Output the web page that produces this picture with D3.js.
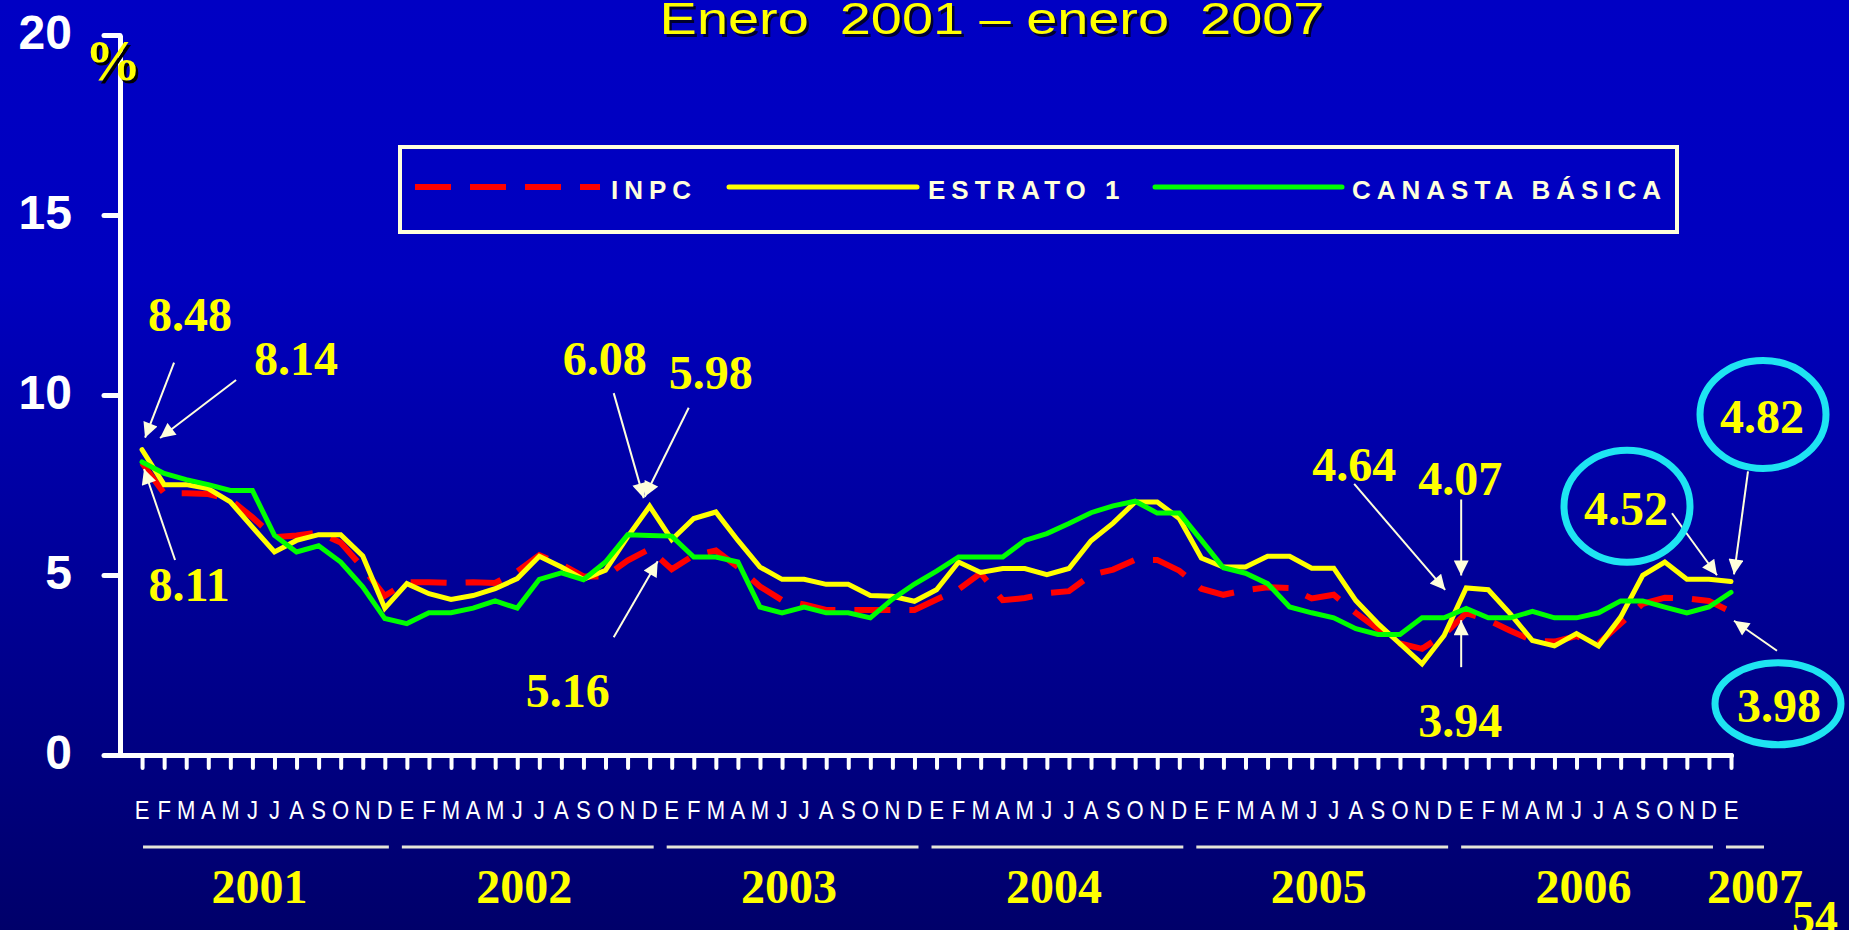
<!DOCTYPE html>
<html>
<head>
<meta charset="utf-8">
<script src="https://cdn.jsdelivr.net/npm/d3@7"></script>
<style>
  html, body { margin: 0; padding: 0; overflow: hidden; background: #0000a0; }
  svg { display: block; }
</style>
</head>
<body>
<svg id="chart" width="1849" height="930"></svg>
<script>
// ---- Data: annual inflation (%) January 2001 - January 2007 ----
const monthInitials = ["E", "F", "M", "A", "M", "J", "J", "A", "S", "O", "N", "D"];
const years = ["2001", "2002", "2003", "2004", "2005", "2006", "2007"];
const yTicks = [0, 5, 10, 15, 20];

const inpc = [
  8.11, 7.27, 7.27, 7.25, 7.10, 6.60, 6.05, 6.10, 6.18, 5.90, 5.20, 4.42,
  4.80, 4.80, 4.78, 4.80, 4.78, 5.10, 5.55, 5.30, 4.96, 4.96, 5.40, 5.72,
  5.16, 5.55, 5.68, 5.22, 4.68, 4.30, 4.18, 4.03, 4.03, 4.03, 4.03, 4.03,
  4.32, 4.60, 5.05, 4.30, 4.36, 4.50, 4.55, 5.00, 5.15, 5.42, 5.42, 5.12,
  4.62, 4.45, 4.58, 4.66, 4.64, 4.35, 4.45, 3.95, 3.50, 3.10, 2.95, 3.35,
  3.94, 3.75, 3.45, 3.18, 3.15, 3.30, 3.10, 3.65, 4.20, 4.37, 4.35, 4.28,
  3.98
];
const estrato1 = [
  8.48, 7.51, 7.51, 7.40, 7.03, 6.33, 5.64, 5.96, 6.12, 6.12, 5.53, 4.08,
  4.76, 4.48, 4.32, 4.43, 4.62, 4.90, 5.52, 5.22, 4.88, 5.13, 6.06, 6.91,
  5.98, 6.57, 6.75, 5.96, 5.22, 4.88, 4.88, 4.74, 4.74, 4.43, 4.41, 4.27,
  4.59, 5.36, 5.07, 5.18, 5.18, 5.01, 5.18, 5.95, 6.44, 7.03, 7.03, 6.57,
  5.47, 5.22, 5.22, 5.52, 5.52, 5.19, 5.19, 4.29, 3.65, 3.09, 2.53, 3.32,
  4.64, 4.59, 3.92, 3.18, 3.03, 3.37, 3.03, 3.83, 4.99, 5.36, 4.88, 4.88,
  4.82
];
const canastaBasica = [
  8.14, 7.82, 7.65, 7.51, 7.35, 7.35, 6.10, 5.64, 5.81, 5.36, 4.67, 3.79,
  3.65, 3.95, 3.95, 4.08, 4.28, 4.08, 4.88, 5.06, 4.87, 5.36, 6.12, 6.10,
  6.08, 5.50, 5.50, 5.36, 4.11, 3.95, 4.11, 3.95, 3.95, 3.81, 4.33, 4.75,
  5.11, 5.50, 5.50, 5.50, 5.96, 6.15, 6.43, 6.73, 6.92, 7.05, 6.72, 6.72,
  5.97, 5.20, 5.05, 4.76, 4.11, 3.95, 3.81, 3.51, 3.35, 3.35, 3.81, 3.81,
  4.07, 3.81, 3.81, 3.99, 3.81, 3.81, 3.95, 4.28, 4.28, 4.11, 3.95, 4.11,
  4.52
];

// month categories built from the initials: Jan 2001 ... Jan 2007
const nMonths = inpc.length;
const months = d3.range(nMonths).map(i => ({
  i,
  letter: monthInitials[i % 12],
  year: years[Math.floor(i / 12)]
}));

// ---- Layout ----
const W = 1849, H = 930;
const SANS = "'Liberation Sans', Arial, Helvetica, sans-serif";
const SERIF = "'Liberation Serif', 'Times New Roman', Times, serif";
const CREAM = "#ffffdc";
const CYAN = "#1ee4f2";
const YELLOW = "#ffff00";

const series = [
  { key: "inpc",    name: "INPC",           values: inpc,          color: "#ff0000", width: 6, dash: "36,19", cap: "butt" },
  { key: "estrato", name: "ESTRATO 1",      values: estrato1,      color: "#ffff00", width: 5, dash: null,    cap: "round" },
  { key: "canasta", name: "CANASTA BÁSICA", values: canastaBasica, color: "#00ff00", width: 5, dash: null,    cap: "round" }
];
const byKey = Object.fromEntries(series.map(s => [s.key, s]));

const x = d3.scaleLinear().domain([-1, nMonths - 1]).range([120, 1731]);
const y = d3.scaleLinear().domain([0, 20]).range([755, 35]);

const svg = d3.select("#chart");
const defs = svg.append("defs");

// background: bright blue fading to navy
const grad = defs.append("linearGradient").attr("id", "bg")
  .attr("x1", 0).attr("y1", 0).attr("x2", 0).attr("y2", 1);
grad.append("stop").attr("offset", "0%").attr("stop-color", "#0000c4");
grad.append("stop").attr("offset", "30%").attr("stop-color", "#0000bf");
grad.append("stop").attr("offset", "100%").attr("stop-color", "#00006a");
svg.append("rect").attr("width", W).attr("height", H).attr("fill", "url(#bg)");

// arrow head for the callouts
defs.append("marker").attr("id", "head")
  .attr("viewBox", "0 0 10 10").attr("refX", 10).attr("refY", 5)
  .attr("markerUnits", "userSpaceOnUse")
  .attr("markerWidth", 17).attr("markerHeight", 15)
  .attr("orient", "auto")
  .append("path").attr("d", "M0,0 L10,5 L0,10 Z").attr("fill", CREAM);

// ---- Title (wide lettering with a dark drop shadow) ----
const title = "Enero  2001 – enero  2007";
[["#000030", 2.5], [YELLOW, 0]].forEach(([fill, off]) => {
  svg.append("text")
    .attr("transform", `translate(${992 + off},${34 + off}) scale(1.27,1)`)
    .attr("text-anchor", "middle")
    .style("white-space", "pre")
    .attr("font-family", SANS).attr("font-size", 44)
    .attr("fill", fill)
    .text(title);
});

// ---- Axes ----
const yAxis = d3.axisLeft(y).tickValues(yTicks).tickSize(16).tickSizeOuter(0).tickPadding(32)
  .tickFormat(d3.format("d"));
const gy = svg.append("g").attr("transform", `translate(${x.range()[0]},0)`).call(yAxis);
gy.select(".domain").attr("stroke", "#fff").attr("stroke-width", 5);
gy.selectAll(".tick line").attr("stroke", "#fff").attr("stroke-width", 5).attr("stroke-linecap", "round");
gy.selectAll(".tick text")
  .attr("fill", "#fff").attr("font-family", SANS).attr("font-size", 48).attr("font-weight", "bold")
  .attr("dy", "0.28em");

const xAxis = d3.axisBottom(x).tickValues(months.map(m => m.i)).tickSize(13).tickSizeOuter(0)
  .tickFormat("");
const gx = svg.append("g").attr("transform", `translate(0,${y(0)})`).call(xAxis);
gx.select(".domain").attr("stroke", "#fff").attr("stroke-width", 5).attr("stroke-linecap", "round");
gx.selectAll(".tick line").attr("stroke", "#fff").attr("stroke-width", 4).attr("stroke-linecap", "round");
gy.raise();

// "%" unit label
[["#000000", 2.5], [YELLOW, 0]].forEach(([fill, off]) => {
  svg.append("text")
    .attr("x", 113 + off).attr("y", 80 + off)
    .attr("text-anchor", "middle")
    .attr("font-family", SERIF).attr("font-size", 56).attr("font-weight", "bold")
    .attr("fill", fill).text("%");
});

// month initials under every tick (narrow lettering)
svg.append("g").selectAll("text").data(months).join("text")
  .attr("transform", d => `translate(${x(d.i)},819) scale(0.85,1)`)
  .attr("text-anchor", "middle")
  .attr("font-family", SANS).attr("font-size", 26)
  .attr("fill", "#fff")
  .text(d => d.letter);

// year groups: rule + year label
const yearGroups = d3.groups(months, d => d.year).map(([year, ms]) => ({
  year, first: ms[0].i, last: ms[ms.length - 1].i
}));
const lastIndex = nMonths - 1;
svg.append("g").selectAll("line").data(yearGroups).join("line")
  .attr("x1", d => x(d.first - 0.5) + (d.first === 0 ? 12 : 6))
  .attr("x2", d => d.last === lastIndex ? x(d.last) + 33 : x(d.last + 0.5) - 7)
  .attr("y1", 847).attr("y2", 847)
  .attr("stroke", "#e4e4d8").attr("stroke-width", 3);
svg.append("g").selectAll("text").data(yearGroups).join("text")
  .attr("x", d => d.first === d.last ? x(d.last) + 24 : (x(d.first) + x(d.last)) / 2 - 4)
  .attr("y", 903)
  .attr("text-anchor", "middle")
  .attr("font-family", SERIF).attr("font-size", 48).attr("font-weight", "bold")
  .attr("fill", YELLOW)
  .text(d => d.year);

// slide number
svg.append("text").attr("x", 1792).attr("y", 933)
  .attr("font-family", SERIF).attr("font-size", 46).attr("font-weight", "bold")
  .attr("fill", YELLOW).text("54");

// ---- Series lines (INPC behind, Canasta on top) ----
const line = d3.line().x((d, i) => x(i)).y(d => y(d));
const order = ["inpc", "estrato", "canasta"];
svg.append("g").selectAll("path").data(order.map(k => byKey[k])).join("path")
  .attr("d", s => line(s.values))
  .attr("fill", "none")
  .attr("stroke", s => s.color)
  .attr("stroke-width", s => s.width)
  .attr("stroke-dasharray", s => s.dash)
  .attr("stroke-linecap", s => s.cap)
  .attr("stroke-linejoin", "miter");

// ---- Legend ----
const legend = svg.append("g");
legend.append("rect").attr("x", 400).attr("y", 147).attr("width", 1277).attr("height", 85)
  .attr("fill", "none").attr("stroke", CREAM).attr("stroke-width", 4);
const legendItems = [
  { key: "inpc",    x1: 415,  x2: 600,  tx: 611 },
  { key: "estrato", x1: 729,  x2: 917,  tx: 928 },
  { key: "canasta", x1: 1155, x2: 1342, tx: 1352 }
];
legendItems.forEach(it => {
  const s = byKey[it.key];
  legend.append("line").attr("x1", it.x1).attr("x2", it.x2).attr("y1", 187).attr("y2", 187)
    .attr("stroke", s.color).attr("stroke-width", s.width)
    .attr("stroke-dasharray", s.dash).attr("stroke-linecap", s.cap);
  legend.append("text").attr("x", it.tx).attr("y", 199)
    .attr("font-family", SANS).attr("font-size", 26).attr("font-weight", "bold")
    .attr("letter-spacing", 6)
    .attr("fill", CREAM).text(s.name);
});

// ---- Callouts: value labels with arrows, offsets relative to the data point ----
const callouts = [
  { key: "estrato", index: 0,  label: [48, -119],  from: [32, -87],   to: [3, -12] },
  { key: "canasta", index: 0,  label: [154, -87],  from: [94, -82],   to: [18, -24] },
  { key: "inpc",    index: 0,  label: [47, 138],   from: [33, 97],    to: [2, 6] },
  { key: "canasta", index: 24, label: [-67, -161], from: [-58, -143], to: [-28, -38] },
  { key: "estrato", index: 24, label: [39, -151],  from: [17, -132],  to: [-27, -43] },
  { key: "inpc",    index: 24, label: [-104, 138], from: [-58, 68],   to: [-14, -8] },
  { key: "estrato", index: 60, label: [-112, -107], from: [-112, -104], to: [-21, 2] },
  { key: "canasta", index: 60, label: [-6, -113],  from: [-5, -109],  to: [-5, -33] },
  { key: "inpc",    index: 60, label: [-6, 124],   from: [-5, 54],    to: [-5, 7] },
  { key: "canasta", index: 72, label: [-105, -67], from: [-59, -79],  to: [-14, -17], ring: [-104, -86, 63, 56] },
  { key: "estrato", index: 72, label: [31, -148],  from: [17, -110],  to: [3, -7],    ring: [32, -167, 63, 54] },
  { key: "inpc",    index: 72, label: [48, 110],   from: [46, 39],    to: [3, 9],     ring: [47, 92, 63, 41] }
];
const fmt = d3.format(".2f");
const gc = svg.append("g");
callouts.forEach(c => {
  const v = byKey[c.key].values[c.index];
  const px = x(c.index), py = y(v);
  gc.append("line")
    .attr("x1", px + c.from[0]).attr("y1", py + c.from[1])
    .attr("x2", px + c.to[0]).attr("y2", py + c.to[1])
    .attr("stroke", CREAM).attr("stroke-width", 2)
    .attr("marker-end", "url(#head)");
  if (c.ring) {
    gc.append("ellipse")
      .attr("cx", px + c.ring[0]).attr("cy", py + c.ring[1])
      .attr("rx", c.ring[2]).attr("ry", c.ring[3])
      .attr("fill", "none").attr("stroke", CYAN).attr("stroke-width", 7);
  }
  gc.append("text")
    .attr("x", px + c.label[0]).attr("y", py + c.label[1])
    .attr("text-anchor", "middle")
    .attr("font-family", SERIF).attr("font-size", 48).attr("font-weight", "bold")
    .attr("fill", YELLOW)
    .text(fmt(v));
});
</script>
</body>
</html>
